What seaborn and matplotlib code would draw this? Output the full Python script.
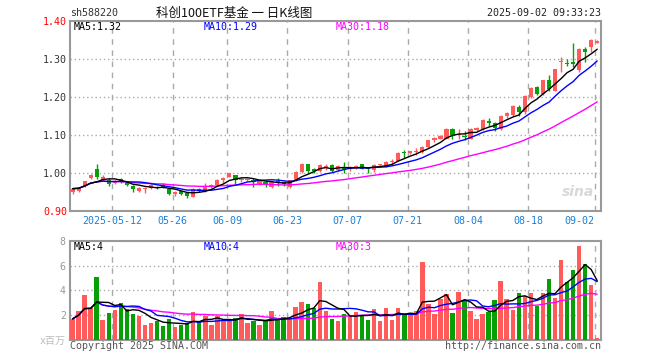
import matplotlib
matplotlib.use("Agg")
import numpy as np
import pandas as pd
import matplotlib.pyplot as plt
import seaborn as sns

# ---------------- data ----------------
opens = [0.950, 0.952, 0.966, 0.985, 1.009, 0.981, 0.981, 0.972, 0.984, 0.974,
         0.966, 0.952, 0.956, 0.959, 0.963, 0.967, 0.958, 0.945, 0.952, 0.947,
         0.937, 0.958, 0.951, 0.963, 0.967, 0.981, 0.990, 0.993, 0.981, 0.981,
         0.980, 0.971, 0.976, 0.962, 0.978, 0.976, 0.962, 0.980, 1.001, 1.022,
         1.009, 1.004, 1.015, 1.020, 1.006, 1.016, 1.009, 1.012, 1.022, 1.012,
         1.007, 1.019, 1.016, 1.027, 1.032, 1.054, 1.051, 1.055, 1.055, 1.067,
         1.085, 1.090, 1.090, 1.115, 1.099, 1.097, 1.090, 1.113, 1.115, 1.136,
         1.130, 1.115, 1.150, 1.152, 1.173, 1.160, 1.198, 1.225, 1.207, 1.245,
         1.216, 1.292, 1.290, 1.292, 1.269, 1.326, 1.331, 1.342]
highs = [0.960, 0.962, 0.979, 0.997, 1.022, 0.993, 0.986, 0.980, 0.986, 0.978,
         0.968, 0.962, 0.962, 0.970, 0.966, 0.973, 0.960, 0.952, 0.953, 0.950,
         0.960, 0.960, 0.974, 0.971, 0.984, 0.989, 1.000, 0.995, 0.989, 0.987,
         0.987, 0.980, 0.978, 0.978, 0.987, 0.978, 0.982, 1.005, 1.025, 1.024,
         1.013, 1.022, 1.024, 1.022, 1.019, 1.028, 1.018, 1.020, 1.023, 1.013,
         1.022, 1.024, 1.030, 1.035, 1.055, 1.060, 1.058, 1.066, 1.069, 1.087,
         1.094, 1.099, 1.118, 1.117, 1.115, 1.111, 1.117, 1.120, 1.141, 1.143,
         1.134, 1.152, 1.160, 1.177, 1.178, 1.205, 1.226, 1.228, 1.245, 1.256,
         1.274, 1.304, 1.300, 1.340, 1.328, 1.331, 1.353, 1.350]
lows = [0.945, 0.950, 0.963, 0.983, 0.984, 0.979, 0.965, 0.970, 0.974, 0.966,
        0.950, 0.948, 0.947, 0.956, 0.956, 0.960, 0.942, 0.940, 0.942, 0.933,
        0.935, 0.950, 0.948, 0.960, 0.964, 0.974, 0.988, 0.969, 0.975, 0.978,
        0.962, 0.968, 0.962, 0.960, 0.965, 0.965, 0.960, 0.978, 0.998, 1.000,
        1.000, 1.002, 1.006, 1.003, 1.004, 1.000, 1.004, 1.010, 1.009, 1.000,
        1.002, 1.017, 1.014, 1.022, 1.030, 1.040, 1.049, 1.046, 1.053, 1.065,
        1.080, 1.088, 1.088, 1.088, 1.088, 1.086, 1.088, 1.110, 1.113, 1.123,
        1.110, 1.113, 1.145, 1.150, 1.150, 1.155, 1.196, 1.205, 1.205, 1.216,
        1.214, 1.266, 1.282, 1.278, 1.265, 1.291, 1.317, 1.340]
closes = [0.958, 0.960, 0.977, 0.995, 0.989, 0.988, 0.970, 0.977, 0.977, 0.968,
          0.956, 0.959, 0.960, 0.968, 0.959, 0.963, 0.944, 0.950, 0.945, 0.938,
          0.958, 0.951, 0.963, 0.968, 0.982, 0.987, 0.998, 0.981, 0.984, 0.984,
          0.975, 0.978, 0.969, 0.976, 0.973, 0.969, 0.980, 1.003, 1.022, 1.004,
          1.005, 1.019, 1.018, 1.004, 1.017, 1.011, 1.014, 1.018, 1.011, 1.010,
          1.019, 1.023, 1.028, 1.030, 1.053, 1.051, 1.056, 1.057, 1.067, 1.085,
          1.092, 1.097, 1.116, 1.100, 1.103, 1.095, 1.115, 1.118, 1.139, 1.132,
          1.118, 1.150, 1.157, 1.175, 1.159, 1.203, 1.224, 1.207, 1.243, 1.220,
          1.272, 1.295, 1.286, 1.287, 1.326, 1.317, 1.348, 1.347]
volumes = [1.7, 2.3, 3.6, 2.6, 5.1, 1.6, 2.2, 2.4, 3.0, 2.5,
           2.1, 1.95, 1.2, 1.35, 1.55, 1.15, 1.7, 1.05, 1.2, 1.35,
           2.25, 1.55, 1.95, 1.2, 1.95, 1.6, 1.55, 1.75, 2.1, 1.35,
           1.55, 1.2, 1.55, 2.3, 1.6, 1.85, 1.7, 2.65, 3.05, 2.9,
           2.6, 4.65, 2.3, 1.7, 1.55, 2.1, 2.0, 2.25, 1.95, 1.6,
           2.5, 1.55, 2.6, 1.6, 2.6, 2.0, 2.0, 2.35, 6.3, 2.9,
           2.1, 3.3, 3.7, 2.2, 3.85, 3.2, 2.35, 1.7, 2.1, 2.25,
           3.2, 4.75, 3.3, 2.4, 3.8, 3.55, 3.8, 2.75, 3.8, 4.9,
           3.4, 6.45, 4.65, 5.65, 7.55, 6.1, 4.45, 0.15]

tick_labels = ["2025-05-12", "05-26", "06-09", "06-23", "07-07",
               "07-21", "08-04", "08-18", "09-02"]
tick_index = [7, 17, 26, 36, 46, 56, 66, 76, 87]
price_ticks = [0.90, 1.00, 1.10, 1.20, 1.30, 1.40]
price_tick_labels = ["0.90", "1.00", "1.10", "1.20", "1.30", "1.40"]
vol_ticks = [2, 4, 6, 8]
vol_tick_labels = ["2", "4", "6", "8"]

code_text = "sh588220"
title_text = "科创100ETF基金 一 日K线图"
time_text = "2025-09-02 09:33:23"
ma_price_texts = ["MA5:1.32", "MA10:1.29", "MA30:1.18"]
ma_vol_texts = ["MA5:4", "MA10:4", "MA30:3"]
unit_text = "x百万"
copyright_text = "Copyright 2025 SINA.COM"
url_text = "http://finance.sina.com.cn"

# ---------------- style ----------------
sns.set_style("white")
plt.rcParams["font.family"] = ["DejaVu Sans Mono", "Noto Sans CJK SC"]

RED = "#ff5b5b"
GREEN = "#06a006"
BLUE_TXT = "#1a7fd8"
GRID = "#aaaaaa"
FRAME = "#999999"
FS = 7.2

W, H = 660.0, 360.0
def fx(px):
    return px / W
def fy(py):
    return 1 - py / H

df = pd.DataFrame({"o": opens, "h": highs, "l": lows, "c": closes, "v": volumes})
df["x"] = np.arange(len(df))
df["up"] = df["c"] >= df["o"]
cols = np.where(df["up"], RED, GREEN)
for n in (5, 10, 30):
    df[f"ma{n}"] = df["c"].rolling(n, min_periods=1).mean()
    df[f"vma{n}"] = df["v"].rolling(n, min_periods=1).mean()

fig = plt.figure(figsize=(6.6, 3.6), dpi=100)
fig.patch.set_facecolor("white")
ax = fig.add_axes([fx(70), fy(210.7), fx(601) - fx(70), (210.7 - 20.7) / H])
axv = fig.add_axes([fx(70), fy(340), fx(601) - fx(70), (340 - 240.7) / H])

xmin, xmax = -0.43, 87.63
grid_x = [i - 0.4 for i in tick_index]

# ---------------- price panel ----------------
for g in grid_x:
    ax.axvline(g, color=GRID, lw=1, ls=(0, (4, 4)), zorder=1)
for y in price_ticks[1:-1]:
    ax.axhline(y, color=GRID, lw=1, ls=(0, (1, 2)), zorder=1)

ax.vlines(df["x"], df["l"], df["h"], colors=cols, lw=1, zorder=3)
body_bottom = np.minimum(df["o"], df["c"])
body_h = np.maximum((df["c"] - df["o"]).abs(), 0.0016)
ax.bar(df["x"], body_h, bottom=body_bottom, width=0.7, color=cols, linewidth=0, zorder=4)

sns.lineplot(data=df, x="x", y="ma30", ax=ax, color="#ff00ff", lw=1.0, zorder=5)
sns.lineplot(data=df, x="x", y="ma10", ax=ax, color="#0000ff", lw=1.0, zorder=6)
sns.lineplot(data=df, x="x", y="ma5", ax=ax, color="black", lw=1.0, zorder=7)

ax.set_xlim(xmin, xmax)
ax.set_ylim(0.90, 1.40)
ax.set_xlabel("")
ax.set_ylabel("")
ax.set_xticks(grid_x)
ax.set_xticklabels(tick_labels)
ax.tick_params(axis="x", length=0, pad=4, labelsize=FS, labelcolor=BLUE_TXT)
xt = ax.get_xticklabels()
xt[-1].set_ha("right")
ax.set_yticks(price_ticks)
ax.set_yticklabels(price_tick_labels)
ax.tick_params(axis="y", length=0, pad=2, labelsize=FS)
for lab, v in zip(ax.get_yticklabels(), price_ticks):
    lab.set_color("red" if v in (0.90, 1.40) else "#333333")
for s in ax.spines.values():
    s.set_color(FRAME)
    s.set_linewidth(1.5)

# ---------------- volume panel ----------------
for g in grid_x:
    axv.axvline(g, color=GRID, lw=1, ls=(0, (4, 4)), zorder=1)
for y in vol_ticks[:-1]:
    axv.axhline(y, color=GRID, lw=1, ls=(0, (1, 2)), zorder=1)
axv.bar(df["x"], df["v"], width=0.75, color=cols, linewidth=0, zorder=3)
sns.lineplot(data=df, x="x", y="vma30", ax=axv, color="#ff00ff", lw=1.0, zorder=5)
sns.lineplot(data=df, x="x", y="vma10", ax=axv, color="#0000ff", lw=1.0, zorder=6)
sns.lineplot(data=df, x="x", y="vma5", ax=axv, color="black", lw=1.0, zorder=7)
axv.set_xlim(xmin, xmax)
axv.set_ylim(0, 8)
axv.set_xlabel("")
axv.set_ylabel("")
axv.set_xticks([])
axv.set_yticks(vol_ticks)
axv.set_yticklabels(vol_tick_labels)
axv.tick_params(axis="y", length=0, pad=3, labelsize=FS, labelcolor="#999999")
for s in axv.spines.values():
    s.set_color(FRAME)
    s.set_linewidth(1.5)

# ---------------- texts ----------------
fig.text(fx(70), fy(13.5), code_text, fontsize=FS, color="#333333", va="center", ha="left")
fig.text(fx(234), fy(13.5), title_text, fontsize=9, color="#111111", va="center", ha="center",
         family=["Noto Sans CJK SC", "DejaVu Sans"])
fig.text(fx(601), fy(13.5), time_text, fontsize=FS, color="#222222", va="center", ha="right")

ma_cols = ["black", "#0000ff", "#ff00ff"]
ma_x = [74, 204, 336]
for t, c, xx in zip(ma_price_texts, ma_cols, ma_x):
    fig.text(fx(xx), fy(27), t, fontsize=FS, color=c, va="center", ha="left")
for t, c, xx in zip(ma_vol_texts, ma_cols, ma_x):
    fig.text(fx(xx), fy(247), t, fontsize=FS, color=c, va="center", ha="left")

fig.text(fx(66), fy(341), unit_text, fontsize=FS, color="#bbbbbb", va="center", ha="right")
fig.text(fx(70), fy(346), copyright_text, fontsize=FS, color="#555555", va="center", ha="left")
fig.text(fx(601), fy(346), url_text, fontsize=FS, color="#555555", va="center", ha="right")
fig.text(fx(578), fy(192), "sina", fontsize=10, color="#d8d8d8", va="center", ha="center",
         style="italic", family="DejaVu Sans", fontweight="bold")

fig.savefig("out.png", dpi=100, facecolor="white")
